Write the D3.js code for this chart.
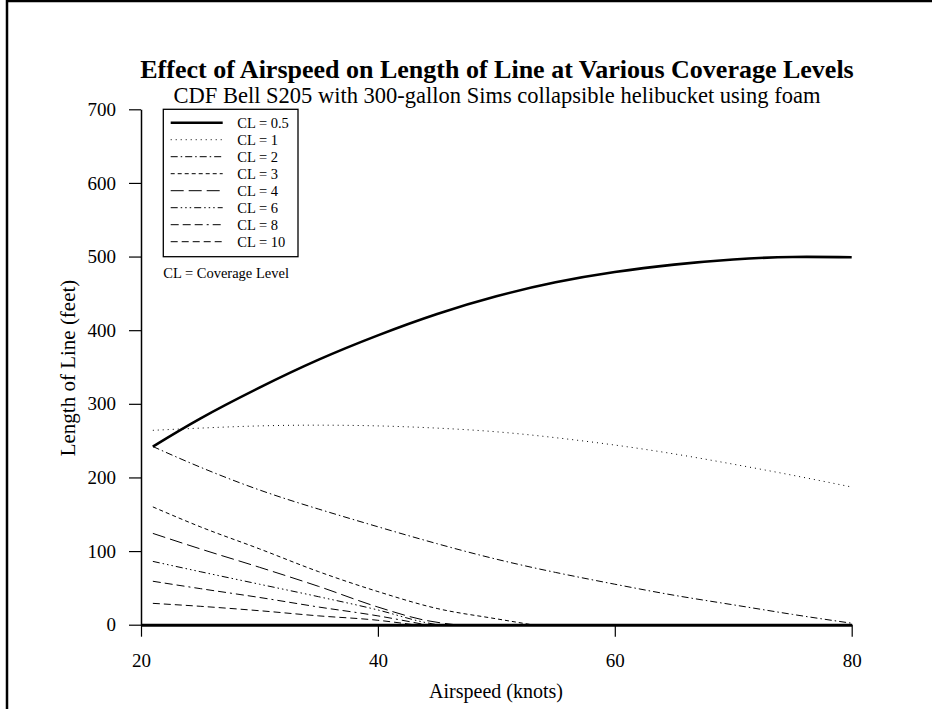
<!DOCTYPE html>
<html>
<head>
<meta charset="utf-8">
<script src="https://cdn.jsdelivr.net/npm/d3@7"></script>
<style>
  body { margin: 0; background: #fff; }
  text { font-family: "Liberation Serif", "Times New Roman", serif; fill: #000; }
</style>
</head>
<body>
<div id="chart"></div>
<script>
// coverage levels and the airspeeds each curve is sampled at
var levels = ["0.5", "1", "2", "3", "4", "6", "8", "10"];
var speeds = [21, 25, 30, 35, 40, 45, 50, 55, 60, 65, 70, 75, 80];

// length of line (feet)
var cl05 = [242, 280, 322, 360, 393, 422, 446, 465, 479, 489, 496, 499.5, 499];
var cl1  = [264, 267, 270, 271, 270, 267, 262, 254, 244, 232, 218, 203, 187];
var cl2  = [242, 214, 183, 157, 133, 110, 89, 71, 55, 40, 27, 14, 2];
// the short curves stop when they reach zero
var shortSpeeds = {
  "3":  [21, 25, 30, 35, 40, 45, 50, 53],
  "4":  [21, 25, 30, 35, 40, 44, 46.5],
  "6":  [21, 25, 30, 35, 40, 44, 45],
  "8":  [21, 25, 30, 35, 40, 44],
  "10": [21, 25, 30, 35, 40, 43]
};
var cl3  = [160, 133, 103, 72, 45, 22, 8, 0];
var cl4  = [124, 103, 78, 52, 24, 6, 0];
var cl6  = [86, 72, 55, 38, 20, 3, 0];
var cl8  = [59, 49, 37, 24, 12, 0];
var cl10 = [29, 25, 19, 12, 6, 0];

var xTicks = [20, 40, 60, 80];
var yTicks = [0, 100, 200, 300, 400, 500, 600, 700];

var width = 932, height = 709;

var series = [
  {cl: "0.5", x: speeds, y: cl05, dash: null, w: 2.6, smooth: true},
  {cl: "1",   x: speeds, y: cl1,  dash: "1,4", w: 1, smooth: true},
  {cl: "2",   x: speeds, y: cl2,  dash: "7,3,1.5,3", w: 1, smooth: true},
  {cl: "3",   x: shortSpeeds["3"],  y: cl3,  dash: "4,3", w: 1},
  {cl: "4",   x: shortSpeeds["4"],  y: cl4,  dash: "13,5", w: 1},
  {cl: "6",   x: shortSpeeds["6"],  y: cl6,  dash: "7,3,1.5,3,1.5,3,1.5,3", w: 1},
  {cl: "8",   x: shortSpeeds["8"],  y: cl8,  dash: "8,4,8,4,8,4,2,4", w: 1},
  {cl: "10",  x: shortSpeeds["10"], y: cl10, dash: "7,4", w: 1}
];

var svg = d3.select("#chart").append("svg")
  .attr("width", width)
  .attr("height", height);

// page frame (only left and top edges fall inside the picture)
svg.append("rect")
  .attr("x", 7).attr("y", 1)
  .attr("width", 960).attr("height", 760)
  .style("fill", "none").style("stroke", "#000").style("stroke-width", 2.5);

var x = d3.scaleLinear().domain([20, 80]).range([141, 851.7]);
var y = d3.scaleLinear().domain([0, 700]).range([624.7, 109.3]);

// titles
svg.append("text")
  .attr("x", 497).attr("y", 78)
  .style("text-anchor", "middle")
  .style("font-weight", "bold")
  .style("font-size", "26px")
  .text("Effect of Airspeed on Length of Line at Various Coverage Levels");

svg.append("text")
  .attr("x", 497).attr("y", 103)
  .style("text-anchor", "middle")
  .style("font-size", "22.5px")
  .text("CDF Bell S205 with 300-gallon Sims collapsible helibucket using foam");

// axes
var xAxis = svg.append("g")
  .attr("transform", "translate(0," + y(0) + ")")
  .call(d3.axisBottom(x).tickValues(xTicks).tickSize(12).tickPadding(17).tickSizeOuter(0));
xAxis.select(".domain").style("stroke-width", 3);
xAxis.selectAll(".tick line").style("stroke-width", 1.2);
xAxis.selectAll(".tick text").style("font-size", "19px")
  .style("font-family", "Liberation Serif");

var yAxis = svg.append("g")
  .attr("transform", "translate(" + x(20) + ",0)")
  .call(d3.axisLeft(y).tickValues(yTicks).tickSize(12).tickPadding(13).tickSizeOuter(0));
yAxis.select(".domain").style("stroke-width", 1.5);
yAxis.selectAll(".tick line").style("stroke-width", 1.2);
yAxis.selectAll(".tick text").style("font-size", "19px")
  .style("font-family", "Liberation Serif");

svg.append("text")
  .attr("x", 496).attr("y", 698)
  .style("text-anchor", "middle")
  .style("font-size", "20px")
  .text("Airspeed (knots)");

svg.append("text")
  .attr("transform", "translate(75,368) rotate(-90)")
  .style("text-anchor", "middle")
  .style("font-size", "21px")
  .text("Length of Line (feet)");

// curves
var smoothLine = d3.line()
  .x(function(d) { return x(d[0]); })
  .y(function(d) { return y(d[1]); })
  .curve(d3.curveNatural);
var line = d3.line()
  .x(function(d) { return x(d[0]); })
  .y(function(d) { return y(d[1]); })
  .curve(d3.curveMonotoneX);

svg.selectAll(".curve")
  .data(series)
  .enter().append("path")
  .attr("class", "curve")
  .attr("d", function(s) {
    var pts = s.x.map(function(v, i) { return [v, s.y[i]]; });
    return s.smooth ? smoothLine(pts) : line(pts);
  })
  .style("fill", "none")
  .style("stroke", "#000")
  .style("stroke-width", function(s) { return s.w; })
  .style("stroke-dasharray", function(s) { return s.dash; });

// legend
var legend = svg.append("g");
legend.append("rect")
  .attr("x", 163.3).attr("y", 109.3)
  .attr("width", 134.7).attr("height", 147.4)
  .style("fill", "#fff").style("stroke", "#000").style("stroke-width", 1.3);

var item = legend.selectAll(".item")
  .data(series)
  .enter().append("g")
  .attr("class", "item")
  .attr("transform", function(d, i) { return "translate(0," + (122.7 + i * 17) + ")"; });

item.append("line")
  .attr("x1", 170.7).attr("x2", 222.7)
  .style("stroke", "#000")
  .style("stroke-width", function(d) { return d.w; })
  .style("stroke-dasharray", function(d) { return d.dash; });

item.append("text")
  .attr("x", 237.3).attr("dy", "0.35em")
  .style("font-size", "14.5px")
  .text(function(d) { return "CL = " + d.cl; });

legend.append("text")
  .attr("x", 163.3).attr("y", 278)
  .style("font-size", "14.5px")
  .text("CL = Coverage Level");
</script>
</body>
</html>
